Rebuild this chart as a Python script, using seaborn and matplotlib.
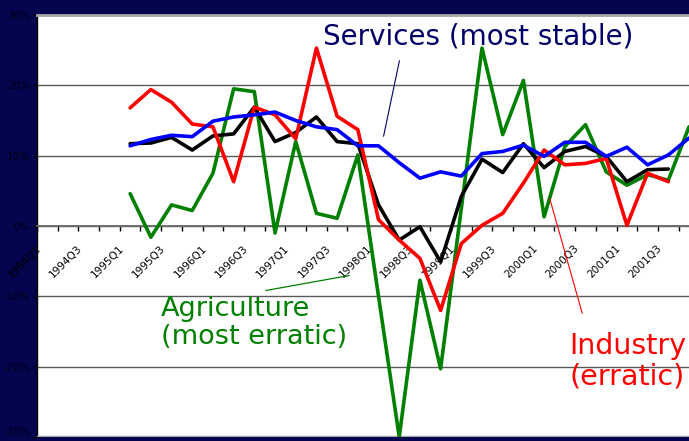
import matplotlib
matplotlib.use("Agg")
import matplotlib.pyplot as plt
from matplotlib.transforms import ScaledTranslation
import numpy as np
import pandas as pd
import seaborn as sns

# ---------------- data ----------------
quarters = ["1994Q1", "1994Q2", "1994Q3", "1994Q4",
            "1995Q1", "1995Q2", "1995Q3", "1995Q4",
            "1996Q1", "1996Q2", "1996Q3", "1996Q4",
            "1997Q1", "1997Q2", "1997Q3", "1997Q4",
            "1998Q1", "1998Q2", "1998Q3", "1998Q4",
            "1999Q1", "1999Q2", "1999Q3", "1999Q4",
            "2000Q1", "2000Q2", "2000Q3", "2000Q4",
            "2001Q1", "2001Q2", "2001Q3", "2001Q4"]
first_quarter = "1995Q1"   # series start here

services = [11.4, 12.3, 12.9, 12.7, 14.9, 15.5, 15.8, 16.2, 15.0, 14.1,
            13.7, 11.4, 11.4, 9.0, 6.8, 7.7, 7.1, 10.3, 10.6, 11.5,
            9.9, 11.9, 11.9, 9.9, 11.2, 8.7, 10.1, 12.5]
total = [11.7, 11.8, 12.6, 10.8, 12.8, 13.1, 16.9, 12.0, 13.3, 15.5,
         12.0, 11.7, 3.0, -2.0, -0.1, -5.1, 4.2, 9.5, 7.6, 11.7,
         8.3, 10.6, 11.3, 9.9, 6.3, 8.0, 8.1, np.nan]
industry = [16.8, 19.4, 17.6, 14.5, 14.1, 6.3, 16.9, 15.8, 12.4, 25.3,
            15.6, 13.7, 0.9, -2.0, -4.6, -12.0, -2.5, 0.1, 1.8, 6.1,
            10.8, 8.7, 8.9, 9.6, 0.1, 7.5, 6.3, np.nan]
agriculture = [4.6, -1.6, 3.0, 2.2, 7.5, 19.5, 19.1, -1.0, 12.0, 1.8,
               1.1, 10.1, -10.0, -30.0, -7.7, -20.3, 2.5, 25.3, 13.0, 20.7,
               1.3, 11.3, 14.4, 7.7, 5.8, 7.3, 6.5, 14.1]

y_ticks = [30, 20, 10, 0, -10, -20, -30]
y_tick_labels = ["30%", "20%", "10%", "0%", "-10%", "-20%", "-30%"]

series = {"Agriculture": agriculture, "Total": total,
          "Industry": industry, "Services": services}
colors = {"Agriculture": "#008000", "Total": "#000000",
          "Industry": "#ff0000", "Services": "#0000ff"}

start = quarters.index(first_quarter)
rows = []
for name, vals in series.items():
    for k, v in enumerate(vals):
        rows.append({"pos": start + k, "quarter": quarters[start + k],
                     "series": name, "value": v})
df = pd.DataFrame(rows).dropna()

# ---------------- figure ----------------
sns.set_theme(style="white")
plt.rcParams["font.family"] = ["DejaVu Sans"]

W, H = 689, 441
navy = "#04044f"
fig = plt.figure(figsize=(W / 100, H / 100), dpi=100, facecolor=navy)
ax = fig.add_axes([37 / W, 4 / H, 1 - 37 / W, 422 / H])
ax.set_facecolor("white")

sns.lineplot(data=df, x="pos", y="value", hue="series", palette=colors,
             hue_order=list(series.keys()), estimator=None, sort=False,
             linewidth=2.6, legend=False, ax=ax, zorder=3)

ax.set_xlabel("")
ax.set_ylabel("")

# spines first (set_position resets the ticks)
ax.spines["bottom"].set_position(("data", 0))
ax.spines["bottom"].set_color("#6a6a6a")
ax.spines["bottom"].set_linewidth(1.3)
ax.spines["left"].set_color("black")
ax.spines["left"].set_linewidth(1)
ax.spines["top"].set_color("#a8a8a8")
ax.spines["top"].set_linewidth(2)
ax.spines["right"].set_visible(False)

# y axis
ax.set_yticks(y_ticks, y_tick_labels)
ax.yaxis.grid(True, color="#5a5a5a", linewidth=1)
ax.xaxis.grid(False)
ax.tick_params(axis="y", length=3, width=1, color="black", direction="out",
               pad=2, labelsize=7.5, labelcolor="#000010", left=True)
ax.get_yticklabels()[-1].set_va("bottom")

# x axis on zero line
npos = len(quarters)
label_pos = list(range(0, npos, 2))
ax.set_xticks(label_pos, quarters[::2])
ax.set_xticks([i + 0.5 for i in range(-1, npos)], minor=True)
ax.tick_params(axis="x", which="major", length=0, pad=15, labelsize=7.6,
               labelcolor="black", bottom=True, labelrotation=45)
ax.tick_params(axis="x", which="minor", length=3.5, width=1, color="black",
               direction="out", bottom=True)
shift = ScaledTranslation(-8 / 100, 0, fig.dpi_scale_trans)
for t in ax.xaxis.get_major_ticks(len(label_pos)):
    lab = t.label1
    lab.set_rotation(45)
    lab.set_ha("right")
    lab.set_va("center")
    lab.set_rotation_mode("anchor")
    lab.set_transform(lab.get_transform() + shift)
ax.set_axisbelow(True)

ax.set_xlim(-0.5, 31.0)
ax.set_ylim(-30, 30)
ax.axhline(-30, color="#a8a8a8", linewidth=2.5, zorder=2.6)

# ---------------- annotations ----------------
def px(x, y):
    return (x, H - y)

fig.text(478 / W, 1 - 37 / H, "Services (most stable)", ha="center",
         va="center", fontsize=20, color="#000066")
ax.annotate("", xy=px(383, 139), xytext=px(400, 58), xycoords="figure pixels",
            textcoords="figure pixels",
            arrowprops=dict(arrowstyle="-", color="#000066", lw=0.8))

fig.text(161 / W, 1 - 296 / H, "Agriculture\n(most erratic)", ha="left",
         va="top", fontsize=19.5, color="#008000", linespacing=1.1)
ax.annotate("", xy=px(352, 275), xytext=px(263, 291), xycoords="figure pixels",
            textcoords="figure pixels",
            arrowprops=dict(arrowstyle="-", color="#008000", lw=0.9))

fig.text(569 / W, 1 - 332 / H, "Industry\n(erratic)", ha="left",
         va="top", fontsize=20.5, color="#ff0000", linespacing=1.1)
ax.annotate("", xy=px(583, 316), xytext=px(549, 196), xycoords="figure pixels",
            textcoords="figure pixels",
            arrowprops=dict(arrowstyle="-", color="#ff0000", lw=0.8))

fig.savefig("out.png", dpi=100, facecolor=navy)
